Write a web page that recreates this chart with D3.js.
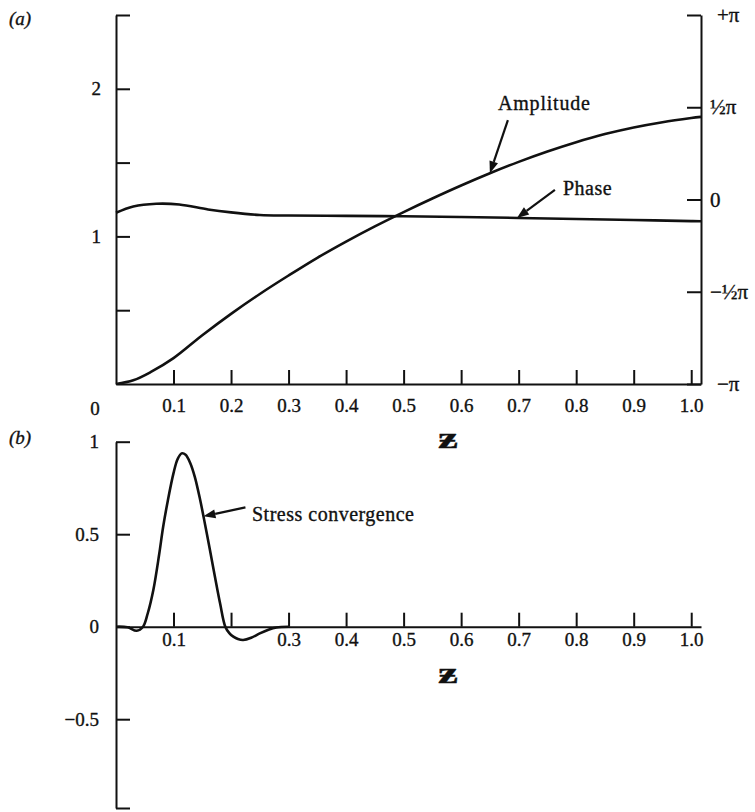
<!DOCTYPE html>
<html>
<head>
<meta charset="utf-8">
<script src="https://cdn.jsdelivr.net/npm/d3@7"></script>
<style>
  html, body { margin: 0; padding: 0; background: #fff; }
  svg text { font-family: "Liberation Serif", "Times New Roman", serif; fill: #111; stroke: #111; stroke-width: 0.35px; }
</style>
</head>
<body>
<svg id="chart" width="755" height="812"></svg>
<script>
// ---- data -------------------------------------------------------------
// panel (a): amplitude (left axis) and phase (right axis, in units of pi) vs z
const zAmp = [0, 0.03, 0.06, 0.1, 0.15, 0.2, 0.25, 0.3, 0.35, 0.4, 0.45, 0.5, 0.55, 0.6, 0.65, 0.7, 0.75, 0.8, 0.85, 0.9, 0.95, 1.0, 1.017];
const amplitude = [0, 0.025, 0.08, 0.175, 0.33, 0.475, 0.61, 0.735, 0.855, 0.965, 1.068, 1.165, 1.257, 1.345, 1.428, 1.505, 1.575, 1.638, 1.693, 1.738, 1.774, 1.802, 1.81];

const zPhase = [0, 0.03, 0.07, 0.11, 0.16, 0.2, 0.25, 0.3, 0.4, 0.5, 0.6, 0.7, 0.8, 0.9, 1.0, 1.017];
const phasePi = [-0.072, -0.038, -0.023, -0.027, -0.054, -0.070, -0.084, -0.087, -0.089, -0.091, -0.095, -0.100, -0.106, -0.111, -0.117, -0.118];

// panel (b): stress convergence vs z
const zStress = [0, 0.02, 0.036, 0.047, 0.055, 0.065, 0.075, 0.082, 0.09, 0.1, 0.107, 0.114, 0.121, 0.129, 0.137, 0.146, 0.155, 0.163, 0.172, 0.181, 0.19, 0.197, 0.204, 0.212, 0.221, 0.235, 0.25, 0.265, 0.279, 0.3];
const stress = [0, -0.003, -0.022, 0, 0.07, 0.2, 0.39, 0.54, 0.68, 0.83, 0.905, 0.937, 0.93, 0.885, 0.81, 0.69, 0.55, 0.42, 0.27, 0.125, 0, -0.035, -0.054, -0.067, -0.072, -0.06, -0.036, -0.016, -0.004, 0];

// ticks
const zTicks = [0.1, 0.2, 0.3, 0.4, 0.5, 0.6, 0.7, 0.8, 0.9, 1.0];
const zLabelsA = ["0.1", "0.2", "0.3", "0.4", "0.5", "0.6", "0.7", "0.8", "0.9", "1.0"];
const zLabelsB = ["0.1", "", "0.3", "0.4", "0.5", "0.6", "0.7", "0.8", "0.9", "1.0"];
const ampTicks = [0.5, 1, 1.5, 2, 2.5];
const ampLabels = ["", "1", "", "2", ""];
const phaseTicksPi = [-1, -0.5, 0, 0.5, 1];
const phaseLabels = ["\u2212\u03c0", "\u2212\u00bd\u03c0", "0", "\u00bd\u03c0", "+\u03c0"];
const stressTicks = [-0.98, -0.5, 0, 0.5, 1];
const stressLabels = ["", "\u22120.5", "0", "0.5", "1"];

// ---- layout -----------------------------------------------------------
const svg = d3.select("#chart");
const zMax = 1.017;
const x = d3.scaleLinear().domain([0, zMax]).range([116, 701]);
const yAmp = d3.scaleLinear().domain([0, 2.5]).range([384, 15]);
const yPhase = d3.scaleLinear().domain([-Math.PI, Math.PI]).range([384, 15]);
const yStress = d3.scaleLinear().domain([-0.98, 1]).range([808, 441.7]);

const TICK = 14;
const axisStroke = 2;
const curveStroke = 2.6;
const FS = 19;

function styleAxis(g) {
  g.selectAll("path.domain").attr("stroke", "#111").attr("stroke-width", axisStroke);
  g.selectAll(".tick line").attr("stroke", "#111").attr("stroke-width", axisStroke);
  g.selectAll(".tick text").attr("font-size", FS).attr("fill", "#111")
    .attr("font-family", "Liberation Serif, serif");
}

function labelOf(ticks, labels) {
  return v => { const i = ticks.indexOf(v); return i < 0 ? "" : labels[i]; };
}

const smooth = d3.curveCatmullRom.alpha(0.5);

// axis title drawn as a stroked "z"
function zTitle(g, cx, cy) {
  g.append("text").attr("x", 0).attr("y", 0).attr("dy", "0.35em").attr("text-anchor", "middle")
    .attr("transform", `translate(${cx},${cy}) scale(1.5,1)`)
    .attr("font-size", 30).attr("font-weight", "bold")
    .attr("font-family", "DejaVu Serif, serif").text("\u01b6");
}

// ---- panel (a) --------------------------------------------------------
const gA = svg.append("g");

gA.append("g")
  .attr("transform", `translate(0,${yAmp(0)})`)
  .call(d3.axisBottom(x).tickValues(zTicks).tickSizeInner(-TICK).tickSizeOuter(0)
        .tickPadding(15).tickFormat(labelOf(zTicks, zLabelsA)))
  .call(styleAxis);

gA.append("g")
  .attr("transform", `translate(${x(0)},0)`)
  .call(d3.axisLeft(yAmp).tickValues(ampTicks).tickSizeInner(-TICK).tickSizeOuter(0)
        .tickPadding(15).tickFormat(labelOf(ampTicks, ampLabels)))
  .call(styleAxis);

gA.append("g")
  .attr("transform", `translate(${x(zMax)},0)`)
  .call(d3.axisRight(yPhase).tickValues(phaseTicksPi.map(d => d * Math.PI))
        .tickSizeInner(-TICK).tickSizeOuter(0).tickPadding(9)
        .tickFormat(v => labelOf(phaseTicksPi, phaseLabels)(Math.round(v / Math.PI * 2) / 2)))
  .call(styleAxis)
  .call(g => g.selectAll(".tick text").attr("font-size", 21)
        .attr("dx", d => Math.abs(Math.abs(d) - Math.PI) < 1e-6 ? 7 : 0));

// origin label of z
gA.append("text").attr("x", 95).attr("y", yAmp(0) + 24).attr("text-anchor", "middle")
  .attr("dy", "0.35em").attr("font-size", FS).text("0");

const lineAmp = d3.line().x((d, i) => x(zAmp[i])).y(d => yAmp(d)).curve(smooth);
const linePhase = d3.line().x((d, i) => x(zPhase[i])).y(d => yPhase(d * Math.PI)).curve(smooth);

gA.append("path").datum(amplitude).attr("d", lineAmp)
  .attr("fill", "none").attr("stroke", "#111").attr("stroke-width", curveStroke);
gA.append("path").datum(phasePi).attr("d", linePhase)
  .attr("fill", "none").attr("stroke", "#111").attr("stroke-width", curveStroke);

gA.append("text").attr("x", 20).attr("y", 18).attr("dy", "0.35em").attr("text-anchor", "middle")
  .attr("font-size", 19).attr("font-style", "italic").text("(a)");

zTitle(gA, 448, 437);

// ---- panel (b) --------------------------------------------------------
const gB = svg.append("g");

gB.append("g")
  .attr("transform", `translate(0,${yStress(0)})`)
  .call(d3.axisBottom(x).tickValues(zTicks).tickSizeInner(-TICK).tickSizeOuter(0)
        .tickPadding(6).tickFormat(labelOf(zTicks, zLabelsB)))
  .call(styleAxis);

gB.append("g")
  .attr("transform", `translate(${x(0)},0)`)
  .call(d3.axisLeft(yStress).tickValues(stressTicks).tickSizeInner(-TICK).tickSizeOuter(0)
        .tickPadding(17).tickFormat(labelOf(stressTicks, stressLabels)))
  .call(styleAxis);

const lineStress = d3.line().x((d, i) => x(zStress[i])).y(d => yStress(d)).curve(smooth);
gB.append("path").datum(stress).attr("d", lineStress)
  .attr("fill", "none").attr("stroke", "#111").attr("stroke-width", curveStroke);

gB.append("text").attr("x", 20).attr("y", 437).attr("dy", "0.35em").attr("text-anchor", "middle")
  .attr("font-size", 19).attr("font-style", "italic").text("(b)");

zTitle(gB, 448, 672);

// ---- annotations ------------------------------------------------------
function interp(zs, vs, z) {
  const i = d3.bisectRight(zs, z) - 1;
  const t = (z - zs[i]) / (zs[i + 1] - zs[i]);
  return vs[i] + t * (vs[i + 1] - vs[i]);
}

function arrow(g, x1, y1, x2, y2) {
  const ang = Math.atan2(y2 - y1, x2 - x1);
  const L = 12, Wd = 4.5;
  const bx = x2 - L * Math.cos(ang), by = y2 - L * Math.sin(ang);
  g.append("line").attr("x1", x1).attr("y1", y1).attr("x2", bx).attr("y2", by)
    .attr("stroke", "#111").attr("stroke-width", 2.2);
  const px = -Math.sin(ang) * Wd, py = Math.cos(ang) * Wd;
  g.append("path")
    .attr("d", `M${x2},${y2}L${bx + px},${by + py}L${bx - px},${by - py}Z`)
    .attr("fill", "#111");
}

// amplitude label
{
  const zt = 0.65, tx = x(zt), ty = yAmp(interp(zAmp, amplitude, zt));
  arrow(gA, tx + 18, ty - 53, tx, ty);
  gA.append("text").attr("x", 498).attr("y", 103).attr("dy", "0.35em")
    .attr("font-size", 20).attr("letter-spacing", 0.8).text("Amplitude");
}
// phase label
{
  const zt = 0.697, tx = x(zt), ty = yPhase(Math.PI * interp(zPhase, phasePi, zt));
  arrow(gA, tx + 38, ty - 28, tx, ty);
  gA.append("text").attr("x", 563).attr("y", 188).attr("dy", "0.35em")
    .attr("font-size", 20).attr("letter-spacing", 0.5).text("Phase");
}
// stress label
{
  const zt = 0.152, tx = x(zt), ty = yStress(interp(zStress, stress, zt));
  arrow(gB, tx + 42, ty - 9, tx, ty);
  gB.append("text").attr("x", 252).attr("y", 514).attr("dy", "0.35em")
    .attr("font-size", 20).attr("letter-spacing", 0.5).text("Stress convergence");
}
</script>
</body>
</html>
